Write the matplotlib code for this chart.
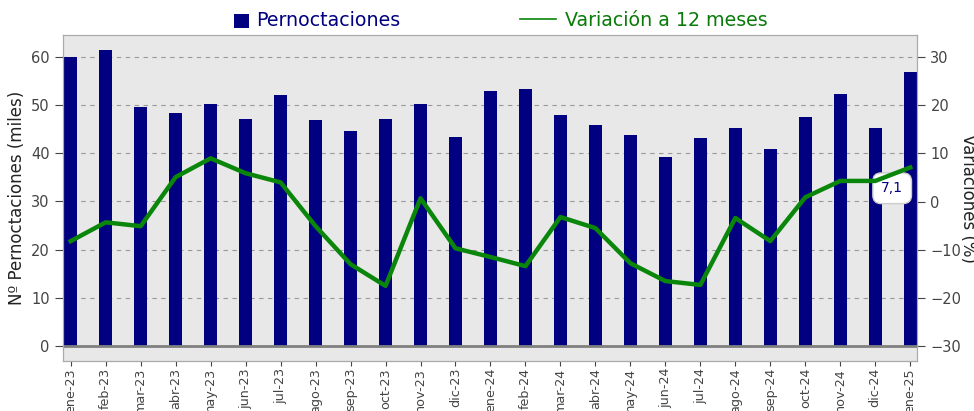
import matplotlib
matplotlib.use("Agg")
import matplotlib.pyplot as plt

meses = ["ene-23", "feb-23", "mar-23", "abr-23", "may-23", "jun-23", "jul-23",
         "ago-23", "sep-23", "oct-23", "nov-23", "dic-23", "ene-24", "feb-24",
         "mar-24", "abr-24", "may-24", "jun-24", "jul-24", "ago-24", "sep-24",
         "oct-24", "nov-24", "dic-24", "ene-25"]
pernoctaciones = [60.0, 61.5, 49.5, 48.3, 50.2, 47.0, 52.0, 46.8, 44.5, 47.0,
                  50.2, 43.3, 53.0, 53.3, 48.0, 45.8, 43.8, 39.3, 43.1, 45.2,
                  40.8, 47.5, 52.2, 45.2, 56.8]
variacion = [-8.2, -4.3, -5.1, 5.1, 9.0, 5.9, 4.0, -5.1, -13.0, -17.5,
             0.7, -9.7, -11.5, -13.4, -3.2, -5.5, -12.8, -16.5, -17.3, -3.4,
             -8.2, 0.9, 4.3, 4.3, 7.1]

navy = "#000080"
verde = "#0a860a"
gris = "#444444"

fig = plt.figure(figsize=(9.74, 4.11), dpi=100)
ax = fig.add_axes([0.0647, 0.1217, 0.877, 0.793])
ax.set_facecolor("#e8e8e8")
x = list(range(len(meses)))

ax.bar(x, pernoctaciones, width=0.36, color=navy, label="Pernoctaciones", zorder=2)
ax.set_ylim(-3.1, 64.5)
ax.set_xlim(-0.22, 24.2)
ax.set_yticks([0, 10, 20, 30, 40, 50, 60])
ax.grid(axis="y", linestyle=(0, (4, 4)), color="#999999", linewidth=0.8, zorder=0)
ax.set_axisbelow(True)
ax.axhline(0, color="#808080", linewidth=2, zorder=3)
ax.set_xticks(x)
ax.set_xticklabels(meses, rotation=90, fontsize=9.2, color=gris)
ax.tick_params(axis="y", labelsize=10.5, colors=gris, length=6)
ax.tick_params(axis="x", length=3.5, colors=gris, pad=1.5)
ax.set_ylabel("Nº Pernoctaciones (miles)", fontsize=12, color="#222222")
for s in ax.spines.values():
    s.set_color("#aaaaaa")

ax2 = ax.twinx()
ax2.plot(x, variacion, color=verde, linewidth=3.2, label="Variación a 12 meses", zorder=4)
ax2.set_ylim(-33.1, 34.6)
ax2.set_yticks([-30, -20, -10, 0, 10, 20, 30])
ax2.tick_params(axis="y", labelsize=10.5, colors=gris, length=6)
ax2.set_ylabel("Variaciones (%)", fontsize=12, color="#222222", rotation=270, labelpad=11)
for s in ax2.spines.values():
    s.set_color("#aaaaaa")

ax2.annotate("7,1", xy=(x[-1], variacion[-1]), xytext=(-13, -15),
             textcoords="offset points", ha="center", va="center",
             fontsize=10, color=navy,
             bbox=dict(boxstyle="round,pad=0.6", fc="white", ec="#cccccc"))

h1, l1 = ax.get_legend_handles_labels()
h2, l2 = ax2.get_legend_handles_labels()
h2[0] = plt.Line2D([], [], color=verde, linewidth=1.2)
leg = fig.legend(h1 + h2, l1 + l2, loc="center", bbox_to_anchor=(0.502, 0.95),
                 ncol=2, frameon=False, fontsize=13.7, columnspacing=6.3,
                 handlelength=1.9, handletextpad=0.48)
leg.get_texts()[0].set_color(navy)
leg.get_texts()[1].set_color("#0a7a0a")
sq = leg.legend_handles[0]
sq.set_width(10.5)
sq.set_height(10.5)
sq.set_x(sq.get_x() + 17)
sq.set_y(sq.get_y() - 1.5)

fig.savefig("out.png", dpi=100)
